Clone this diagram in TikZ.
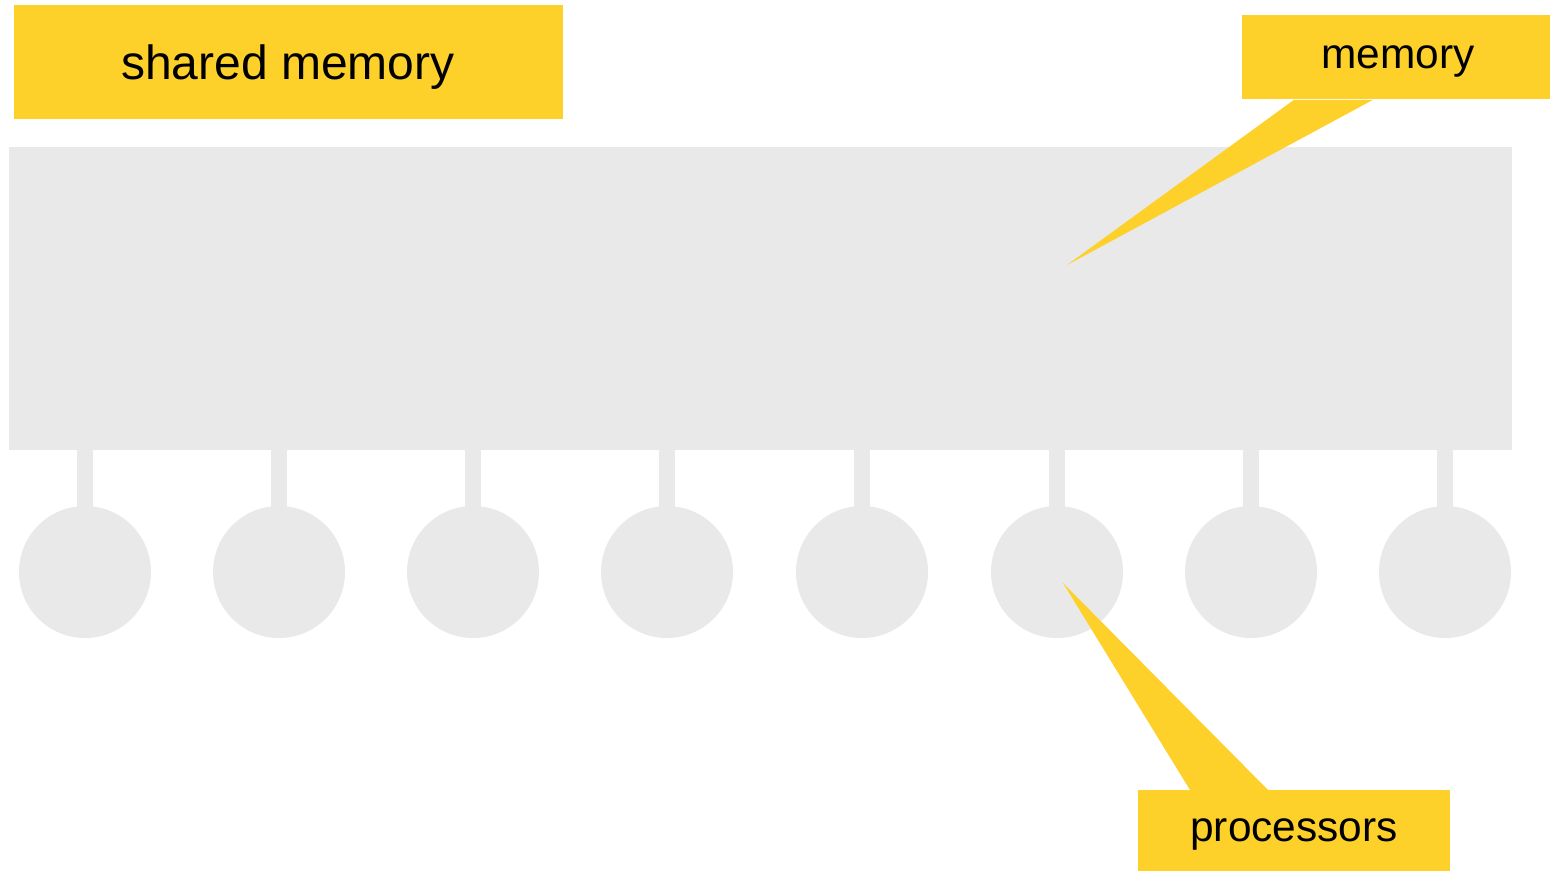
\documentclass[tikz,border=0pt]{standalone}
\usepackage{fontspec}
\setmainfont{Liberation Sans}
\usetikzlibrary{calc}
\definecolor{panelgray}{HTML}{E9E9E9}
\definecolor{tagyellow}{HTML}{FED02A}
\begin{document}
\begin{tikzpicture}[x=0.5pt,y=-0.5pt,
  membox/.style={rectangle, fill=panelgray, draw=none, inner sep=0pt,
    minimum width=751.5pt, minimum height=151.5pt},
  cpu/.style={circle, fill=panelgray, draw=none, inner sep=0pt, minimum size=66pt},
  stem/.style={draw=panelgray, line width=8pt},
  tagbox/.style={rectangle, fill=tagyellow, draw=none, inner sep=0pt, anchor=north west},
  tagtext/.style={anchor=base, inner sep=0pt, text=black},
  pointer/.style={fill=tagyellow, draw=none}]
\useasboundingbox (0,0) rectangle (1550,871);
\fill[white] (0,0) rectangle (1550,871);

% shared memory block
\node[membox] (mem) at (760.5,298.5) {};

% processors hanging off the memory
\foreach \i/\x in {1/85,2/279,3/473,4/667,5/862,6/1057,7/1251,8/1445} {
  \node[cpu] (p\i) at (\x,572) {};
  \draw[stem] (p\i.center) -- (p\i.center |- mem.south);
}

% callout tips
\coordinate (memtip) at (1067,265);
\coordinate (cputip) at (1063,583);

% callout boxes
\node[tagbox, minimum width=274.5pt, minimum height=57pt] (sharedtag) at (14,5) {};
\node[tagbox, minimum width=154pt, minimum height=42pt] (memtag) at (1242,15) {};
\node[tagbox, minimum width=156pt, minimum height=40.5pt] (cputag) at (1138,790) {};

% callout pointers
\fill[pointer] ($(memtag.south west)+(52,0)$) -- (memtip) -- ($(memtag.south west)+(131,0)$) -- cycle;
\fill[pointer] ($(cputag.north west)+(52,0)$) -- (cputip) -- ($(cputag.north west)+(130,0)$) -- cycle;

% labels
\node[tagtext, font=\fontsize{24pt}{29pt}\selectfont] (sharedlbl) at (288,80) {shared memory};
\node[tagtext, font=\fontsize{21.2pt}{25pt}\selectfont] (memlbl) at (1398,69) {memory};
\node[tagtext, font=\fontsize{21.2pt}{25pt}\selectfont] (cpulbl) at (1294,841) {processors};
\end{tikzpicture}
\end{document}
